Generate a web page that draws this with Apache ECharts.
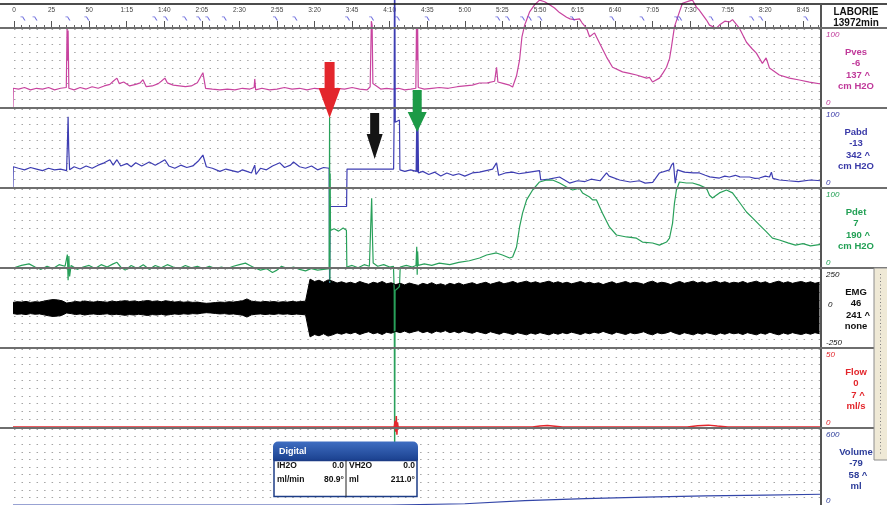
<!DOCTYPE html>
<html><head><meta charset="utf-8">
<script src="https://cdn.jsdelivr.net/npm/echarts@6/dist/echarts.min.js"></script>
<style>html,body{margin:0;padding:0;background:#fff}#c{width:887px;height:505px}</style>
</head><body><div id="c"></div>
<script>
// ---------------- DATA ----------------
const timeStep = 25;          // seconds between labelled time ticks
const timeMax = 537;          // seconds at right edge

// Pves [t(s), cmH2O]
const pvesData = [[-4.7,0],[-0.7,0],[-0.5,24],[3,23],[7,25],[11,22],[15,24],[19,23],[23,25],[27,22],[31,24],[34.8,25],[35.3,100],[35.7,60],[36,98],[36.5,24],[40,22],[44,25],[48,23],[52,26],[56,24],[60,27],[63.8,29],[66,33],[68.5,37],[70,30],[73,32],[77,27],[81,29],[84,31],[85.8,35],[88,26],[92,27],[96,30],[98,33],[100.4,37],[102,31],[106,28],[110,27],[114,26],[118,27],[122,31],[125.7,44],[127.5,24],[132,23],[137,22],[142,23],[147,22],[152,24],[157,23],[159.8,25],[160.2,36],[160.8,22],[165,24],[170,22],[175,23],[180,25],[185,23],[190,24],[195,22],[200,24],[205,23],[210,22],[215,24],[220,23],[225,25],[230,23],[235,22],[237,26],[237.8,110],[238.3,105],[238.8,30],[240,28],[244,23],[248,24],[252,23],[256,24],[260,22],[264,23],[267.4,24],[267.8,100],[268.2,60],[268.6,101],[269,25],[273,23],[278,24],[283,25],[289,24],[295,26],[300,27],[305,28],[309.8,30.8],[315,31],[319.8,33],[321.1,51],[322,32],[326,30],[329.8,28],[331.8,25.6],[334.4,40],[336.4,60],[338,90],[339.8,105],[341.1,111.5],[343.1,122],[346.4,131],[349.7,137],[353.1,135],[356.4,131],[359.7,127],[363,121],[367.7,115],[370,113],[373,112],[376.3,113],[378,108],[381,101],[383,90],[386.3,95],[389.6,82],[394.3,64],[398.3,51],[404.9,45],[409.6,43],[414.2,41],[420.9,37],[422.9,38],[424.9,32],[429.5,37],[432,44],[434.2,51],[436.2,62],[437.5,77],[439.5,103],[442.8,122],[444.8,133],[449.5,136],[451.5,137],[454.1,128],[456.1,124],[460.8,111.5],[462.8,105],[467.4,101],[469.4,105],[473,110],[476.1,109],[478.1,112],[482.7,101],[487.4,83],[491,75],[494,69],[498,56],[500.5,63],[502.7,50],[509.3,41],[516,37],[522.6,34.6],[529.3,32],[537,29.5]];

// Pabd [t(s), cmH2O]
const pabdData = [[-4.7,0],[-0.7,0],[-0.5,26],[3,24],[7,22],[11,25],[15,23],[19,21],[23,24],[27,22],[31,23],[35,21],[35.6,60],[36,90],[36.4,50],[37,22],[40,26],[44,23],[48,27],[52,24],[56,28],[60,31],[63.8,35],[66,28],[68.5,35],[71,27],[75,30],[78,26],[81,31],[85,27],[90,32],[94,28],[97,31],[100.4,35],[103,27],[107,24],[111,28],[115,25],[119,27],[123,34],[125.7,41],[128,26],[132,24],[137,20],[141,23],[145,21],[149,19],[152,22],[155,20],[158,18],[160.2,28],[161,16],[164,24],[168,22],[172,27],[176.9,31],[180,25],[184,28],[186,32],[190,26],[194,24],[198,27],[202,22],[206,25],[209.7,24],[210,-123],[210.4,-25],[221.3,-25],[221.6,23],[252.6,23],[252.9,77],[253.3,342],[253.7,83],[256.5,86],[256.8,22],[260,20],[264,22],[267.6,20],[268,85],[268.4,19],[268.8,80],[269.2,18],[272,20],[276,16],[280,19],[284,14],[288,18],[292,15],[296,17],[300,14],[305,18],[309.8,19],[318.5,23],[321.1,31],[322.5,15],[327,18],[331.8,19],[336,17],[339.8,18],[349.7,21],[350.5,9],[356,10],[363,12.8],[369.7,5],[375,8],[380,7],[384,10],[390,8],[394.3,18],[396,14],[403,9],[410,6.4],[416.2,8],[420,5],[425,6],[429.5,18],[436.2,22],[437.5,28],[438.8,31],[440,5],[441.5,22],[446,19],[452,18],[456.1,18],[460,15],[463,13],[469.4,11.5],[473,14],[476,12.8],[480,15],[483,13],[489.4,12.8],[493,11],[496,11.5],[500,14],[502.7,12.8],[504,19],[505,11],[509.3,9],[515,8],[522,7],[530,9],[537,8]];

// Pdet [t(s), cmH2O]
const pdetData = [[-4.7,0],[0,-1],[5,2],[10,4],[14,0],[18,-3],[22,1],[26,-2],[30,3],[34,1],[35.5,16],[36,-17],[36.5,14],[37,-12],[38,2],[42,-3],[46,0],[50,2],[54,-2],[58,3],[62,0],[66,4],[68.5,6],[71,0],[74,-4],[78,2],[82,-2],[86,3],[90,-3],[94,2],[98,-1],[102,3],[106,0],[110,-2],[114,2],[118,-1],[122,1],[126,-2],[130,1],[134,-2],[138,0],[142,-2],[146,1],[150,3],[154,5],[157,2],[160,-1],[164,-4],[168,-2],[172,-7],[175,-4],[178,1],[182,-2],[186,0],[190,-3],[194,-5],[198,-2],[202,-4],[206,-3],[209.7,-2],[210,192],[210.2,-20],[210.4,120],[210.6,47],[213,49],[216,46],[219,50],[221.2,47],[221.5,0],[225,2],[229,-1],[233,3],[236.5,1],[237.5,60],[238,88],[238.5,40],[239,5],[242,1],[246,3],[250,0],[252.5,1],[253,-30],[253.3,-290],[253.6,-30],[255,-28],[256.5,-25],[257,0],[261,2],[265,0],[267.5,2],[268,26],[268.3,-10],[268.6,20],[269,2],[273,4],[278,2],[283,5],[290,3],[296,6],[303,8],[309.8,11.5],[314.5,15.4],[321,18],[325,15.4],[329.8,11.5],[331.8,12.8],[334.4,25.6],[336.4,51],[338.4,69],[341.1,86],[345.1,98.7],[349.7,109],[354.4,111.5],[358.4,111.5],[363,107.7],[367.7,102.6],[371.7,98.7],[376.3,101],[378.3,95],[383,89.7],[385,86],[387.6,86],[391.6,69],[396.3,51],[400.9,41],[407.6,38.5],[414.2,37],[418.2,32],[424.9,30.8],[429.5,28],[434.2,32],[436.2,37],[438.2,56],[439.5,82],[440.8,98.7],[442.8,109],[447.4,107.7],[451.5,107.7],[456.1,105],[460.8,101],[462.8,92],[464.8,88.5],[469.4,95],[474.1,98.7],[478.1,95],[482.7,83],[487.4,70.5],[491.4,63],[496,54],[500.7,45],[504.7,37],[509.3,34.6],[515,31],[520,28],[525,30],[530,27],[537,29]];

// EMG envelope amplitude, sampled every emgStep seconds from emgStart
const emgStart = -1, emgStep = 3;
const emgAmp = [35,40,38,42,36,40,38,44,50,54,52,46,32,36,42,38,45,40,38,42,40,37,44,40,43,47,42,45,40,44,48,42,45,40,46,42,38,41,37,40,36,38,33,30,32,35,38,36,40,38,42,46,58,44,40,38,42,39,41,37,40,38,42,39,41,44,
185,170,178,165,180,172,160,168,158,165,155,170,160,152,165,158,170,155,162,150,158,148,160,152,145,158,150,162,148,155,145,158,150,160,148,155,162,150,158,165,152,160,168,155,162,170,158,165,172,160,168,158,165,172,160,168,158,165,155,162,170,158,165,155,162,150,160,168,155,162,170,158,165,160,152,165,172,158,165,160,150,162,170,158,165,172,160,168,158,165,172,160,168,158,165,160,170,158,165,172,160,168,155,165,172,160,168,158,165,170,160,168,158,165];

// Flow [t(s), ml/s]
const flowData = [[-4.7,0],[253,0],[253.6,4],[254,-3],[254.4,7],[254.8,-5],[255.2,3],[255.6,0],[345,0],[350,0.6],[355,1],[360,0.5],[365,0],[448,0],[455,0.8],[462,1.2],[468,0.6],[475,0],[537,0]];

// Volume [t(s), ml]
const volumeData = [[-4.7,0],[250,0],[300,10],[340,35],[380,50],[420,62],[460,72],[500,78],[537,85]];

// event marks on the time ruler (s)
const eventTimes = [-0.7,6,14,35.9,48.5,93.8,101,113.7,123,129,140,174,187,222,238,255.3,275,322,328.5,338.5,343,350,371.6,398,418,441,443,464,491,497,527];

// channel table (right-hand panel)
const channelNames   = ['Pves','Pabd','Pdet','EMG','Flow','Volume'];
const channelCurrent = ['-6','-13','7','46','0','-79'];
const channelPeak    = ['137','342','190','241','7','58'];
const channelUnits   = ['cm H2O','cm H2O','cm H2O','none','ml/s','ml'];
const axisMin = [0,0,0,-250,0,0];
const axisMax = [100,100,100,250,50,600];
const headerLines = ['LABORIE','13972min'];

// arrow annotations (s)
const arrowTimes = [210, 240, 268.3];

// digital read-out box
const digitalTitle = 'Digital';
const digitalRows = [['IH2O','0.0','VH2O','0.0'],['ml/min','80.9\u00b0','ml','211.0\u00b0']];

// ---------------- STYLE / LAYOUT ----------------
const L = 14, R = 66, PH = 78;
const panelTop = [29,109,189,269,349,429];
const lineColors = ['#c8449f','#3d3db2','#28a05a','#000000','#e3262c','#3346a8'];
const textColors = ['#c0399a','#3a3aa8','#22a055','#111111','#e3262c','#2d3d9a'];
const FONT = '"Liberation Sans", Arial, sans-serif';

const fmtTime = v => v < 60 ? String(v) : Math.floor(v/60) + ':' + String(v%60).padStart(2,'0');

const chart = echarts.init(document.getElementById('c'));

const grids = [{left:L,right:R,top:4,height:24}].concat(panelTop.map(t => ({left:L,right:R,top:t,height:PH})));
const xAxes = [
  {gridIndex:0,type:'value',position:'top',min:0,max:timeMax,interval:timeStep,
   axisLine:{show:false},axisTick:{show:false},splitLine:{show:false},
   axisLabel:{inside:true,margin:3,fontSize:6.5,color:'#444',fontFamily:FONT,formatter:fmtTime,showMaxLabel:false}},
  {gridIndex:0,type:'value',position:'bottom',min:0,max:timeMax,interval:timeStep,
   axisLine:{show:false},axisLabel:{show:false},splitLine:{show:false},
   axisTick:{show:true,inside:true,length:7,lineStyle:{color:'#555',width:1}},
   minorTick:{show:true,splitNumber:5,length:3,lineStyle:{color:'#666',width:1}}}
];
panelTop.forEach((t,i) => xAxes.push({gridIndex:i+1,type:'value',min:0,max:timeMax,show:false}));

const yAxes = [{gridIndex:0,type:'value',min:0,max:1,show:false}];
axisMin.forEach((mn,i) => yAxes.push({gridIndex:i+1,type:'value',min:mn,max:axisMax[i],interval:(axisMax[i]-mn)/10,
  axisLine:{show:false},axisTick:{show:false},axisLabel:{show:false},
  splitLine:{show:true,lineStyle:{color:'#a4a4a4',width:1,type:[1.5,6.02]}}}));

const mkLine = (data, i, extra) => Object.assign({
  type:'line', xAxisIndex:i+2, yAxisIndex:i+1, data, symbol:'none', showSymbol:false,
  clip:false, animation:false, lineStyle:{color:lineColors[i], width:1.2}, z:3
}, extra || {});

const emgUpper = emgAmp.map((a,k) => [emgStart + k*emgStep, a]);
const emgLower = emgAmp.map((a,k) => [emgStart + k*emgStep, -a]);

const series = [
  mkLine(pvesData,0), mkLine(pabdData,1), mkLine(pdetData,2),
  mkLine(emgUpper,3,{lineStyle:{color:'#000',width:1},areaStyle:{color:'#000',opacity:1}}),
  mkLine(emgLower,3,{lineStyle:{color:'#000',width:1},areaStyle:{color:'#000',opacity:1}}),
  mkLine(flowData,4,{lineStyle:{color:lineColors[4],width:1.5}}),
  mkLine(volumeData,5),
  {type:'scatter',xAxisIndex:0,yAxisIndex:0,data:eventTimes.map(t => [t,0.4]),
   symbol:'path://M0 0H3L6 5H4.5L2.2 1.2H0Z',symbolSize:[5,4],itemStyle:{color:'#4b4bd6'},
   animation:false,silent:true,z:4}
];

chart.setOption({animation:false,grid:grids,xAxis:xAxes,yAxis:yAxes,series});

// ---------------- ANNOTATION GRAPHICS ----------------
const px = t => chart.convertToPixel({xAxisIndex:2}, t);
const py = (i,v) => chart.convertToPixel({yAxisIndex:i+1}, v);
const g = [];
const W = 887, H = 505, RX = 821, CX = 856;

g.push({type:'line',z:5,shape:{x1:0,y1:4,x2:W,y2:4},style:{stroke:'#111',lineWidth:1.5}});
g.push({type:'line',z:5,shape:{x1:RX,y1:4,x2:RX,y2:H},style:{stroke:'#555',lineWidth:2}});
headerLines.forEach((s,k) => g.push({type:'text',z:6,style:{text:s,x:CX,y:12+k*11,fill:'#111',font:'bold 10px '+FONT,align:'center',verticalAlign:'middle',textAlign:'center',textVerticalAlign:'middle'}}));

channelNames.forEach((name,i) => {
  const top = py(i, axisMax[i]);
  const bot = py(i, axisMin[i]);
  const sep = top - 1;
  g.push({type:'line',z:5,shape:{x1:0,y1:sep,x2:W,y2:sep},style:{stroke:'#6e6e6e',lineWidth:2}});
  const c = textColors[i];
  const lab = (text,x,y,font,align) => g.push({type:'text',z:6,style:{text,x,y,fill:c,font,align:align||'center',verticalAlign:'middle',textAlign:align||'center',textVerticalAlign:'middle'}});
  lab(String(axisMax[i]), RX+5, top+6, 'italic 8px '+FONT, 'left');
  lab(String(axisMin[i]), RX+5, bot-4, 'italic 8px '+FONT, 'left');
  if (axisMin[i] < 0) lab('0', RX+7, py(i,0)-3, 'italic 8px '+FONT, 'left');
  const f = 'bold 9.5px '+FONT;
  lab(name, CX, sep+24, f);
  lab(channelCurrent[i], CX, sep+35.5, f);
  lab(channelPeak[i] + ' ^', CX+2, sep+47, f);
  lab(channelUnits[i], CX, sep+58.5, f);
});

g.push({type:'rect',z:6,shape:{x:874,y:268,width:14,height:192},style:{fill:'#efe9d6',stroke:'#8c8c8c',lineWidth:1}});
g.push({type:'line',z:7,shape:{x1:880.5,y1:274,x2:880.5,y2:454},style:{stroke:'#7a7a7a',lineWidth:1,lineDash:[1,2.5]}});

const arrowDefs = [
  {color:'#e3262c', sw:5, hw:11, y0:62, y1:88, y2:118},
  {color:'#141414', sw:4.5, hw:8, y0:113, y1:134, y2:159},
  {color:'#1c9a46', sw:4.5, hw:9.5, y0:90, y1:112, y2:132}
];
arrowTimes.forEach((t,k) => {
  const a = arrowDefs[k], cx = px(t);
  g.push({type:'polygon',z:20,shape:{points:[[cx-a.sw,a.y0],[cx+a.sw,a.y0],[cx+a.sw,a.y1],[cx+a.hw,a.y1],[cx,a.y2],[cx-a.hw,a.y1],[cx-a.sw,a.y1]]},
    style:{fill:a.color}});
});

const bx = 273, by = 441.5, bw = 145;
g.push({type:'rect',z:30,shape:{x:bx,y:by,width:bw,height:19,r:[5,5,0,0]},
  style:{fill:new echarts.graphic.LinearGradient(0,0,0,1,[{offset:0,color:'#3f6ec2'},{offset:1,color:'#1b418f'}])}});
g.push({type:'rect',z:30,shape:{x:bx+1,y:by+19,width:bw-2,height:36},style:{fill:'#fff',stroke:'#1c3c86',lineWidth:1.5}});
g.push({type:'line',z:31,shape:{x1:346,y1:by+19,x2:346,y2:by+55},style:{stroke:'#222',lineWidth:1}});
g.push({type:'text',z:31,style:{text:digitalTitle,x:bx+6,y:by+10,fill:'#fff',font:'bold 9px '+FONT,align:'left',verticalAlign:'middle',textAlign:'left',textVerticalAlign:'middle'}});
digitalRows.forEach((row,r) => {
  const y = by + 24.5 + r*14;
  const tf = 'bold 8.5px '+FONT;
  const put = (text,x,align) => g.push({type:'text',z:31,style:{text,x,y,fill:'#111',font:tf,align,verticalAlign:'middle',textAlign:align,textVerticalAlign:'middle'}});
  put(row[0], bx+4, 'left');
  put(row[1], 344, 'right');
  put(row[2], 349, 'left');
  put(row[3], bx+bw-3, 'right');
});

chart.setOption({graphic:{elements:g}});
</script></body></html>
